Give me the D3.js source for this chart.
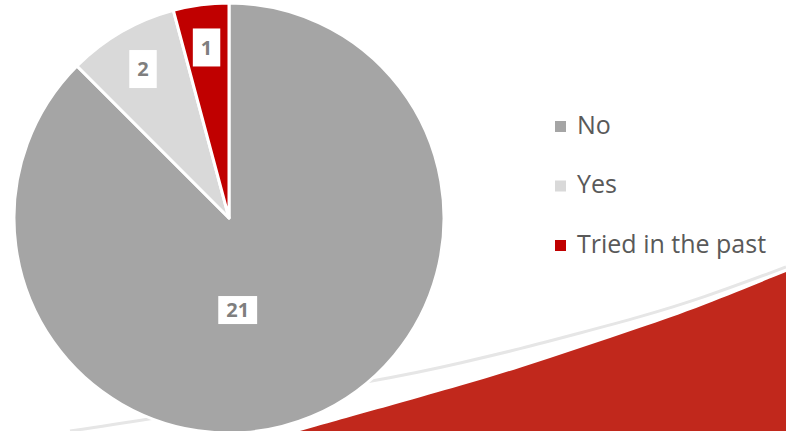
<!DOCTYPE html>
<html>
<head>
<meta charset="utf-8">
<script src="https://cdn.jsdelivr.net/npm/d3@7"></script>
<style>
  body { margin: 0; background: #fff; }
  svg { display: block; }
</style>
</head>
<body>
<script>
var svgWidth = 786;
var svgHeight = 431;

// chart data
var categories = ["No", "Yes", "Tried in the past"];
var values = [21, 2, 1];
var colors = ["#A5A5A5", "#D9D9D9", "#C00000"];

// background swoosh (decoration only)
var swooshLine = [[70, 431], [145, 420], [400, 377], [460, 363], [520, 349], [580, 333],
                  [640, 317], [700, 299], [786, 267]];
var swooshFill = [[300, 431], [400, 403], [460, 386], [520, 368], [580, 348], [640, 328],
                  [700, 307], [786, 272]];

var svg = d3.select("body")
  .append("svg")
  .attr("width", svgWidth)
  .attr("height", svgHeight);

// draw the decoration first, the pie sits on top of it
var curve = d3.line().curve(d3.curveBasis);

svg.append("path")
  .attr("d", curve(swooshFill) + "L786,431L300,431Z")
  .attr("fill", "#C1281C");

svg.append("path")
  .attr("d", curve(swooshLine))
  .attr("fill", "none")
  .attr("stroke", "#E6E6E6")
  .attr("stroke-width", 3);

var cx = 229, cy = 218, radius = 215;

var table = categories.map(function(c, i) {
  return { name: c, value: values[i], color: colors[i] };
});

var pie = d3.pie()
  .sort(null)
  .value(d => d.value);

var arcs = pie(table);

var arc = d3.arc()
  .innerRadius(0)
  .outerRadius(radius);

var pieGroup = svg.append("g")
  .attr("transform", `translate(${cx}, ${cy})`);

pieGroup.selectAll("path.slice")
  .data(arcs)
  .enter()
  .append("path")
  .attr("class", "slice")
  .attr("d", arc)
  .attr("fill", d => d.data.color)
  .attr("stroke", "#fff")
  .attr("stroke-width", 3)
  .attr("stroke-linejoin", "round");

// labels: small slices near the rim, the big one closer to the middle
function labelPos(d) {
  var big = (d.endAngle - d.startAngle) > Math.PI;
  var a = big ? Math.PI * 0.97 : (d.startAngle + d.endAngle) / 2;
  var r = big ? radius * 0.43 : radius * 0.8;
  return [Math.sin(a) * r, -Math.cos(a) * r];
}

var labels = pieGroup.selectAll("g.label")
  .data(arcs)
  .enter()
  .append("g")
  .attr("class", "label")
  .attr("transform", d => `translate(${labelPos(d)})`);

labels.append("rect")
  .attr("fill", "#fff");

labels.append("text")
  .attr("text-anchor", "middle")
  .attr("dy", "0.36em")
  .attr("font-family", "'Open Sans', sans-serif")
  .attr("font-weight", "bold")
  .attr("font-size", 20)
  .attr("fill", "#7F7F7F")
  .text(d => d.data.value);

labels.each(function(d) {
  var g = d3.select(this);
  var w = g.select("text").node().getComputedTextLength() + 16;
  var h = (d.endAngle - d.startAngle) > Math.PI ? 28 : 38;
  g.select("rect")
    .attr("x", -w / 2)
    .attr("y", -h / 2)
    .attr("width", w)
    .attr("height", h);
});

// legend
var legendY = d3.scalePoint()
  .domain(categories)
  .range([126, 245]);

var legend = svg.selectAll("g.legend")
  .data(table)
  .enter()
  .append("g")
  .attr("class", "legend")
  .attr("transform", d => `translate(555, ${legendY(d.name)})`);

legend.append("rect")
  .attr("x", 0)
  .attr("y", -5)
  .attr("width", 11)
  .attr("height", 11)
  .attr("fill", d => d.color);

legend.append("text")
  .attr("x", 22)
  .attr("dy", "0.3em")
  .attr("font-family", "'Open Sans', sans-serif")
  .attr("font-size", 25)
  .attr("fill", "#595959")
  .text(d => d.name);
</script>
</body>
</html>
